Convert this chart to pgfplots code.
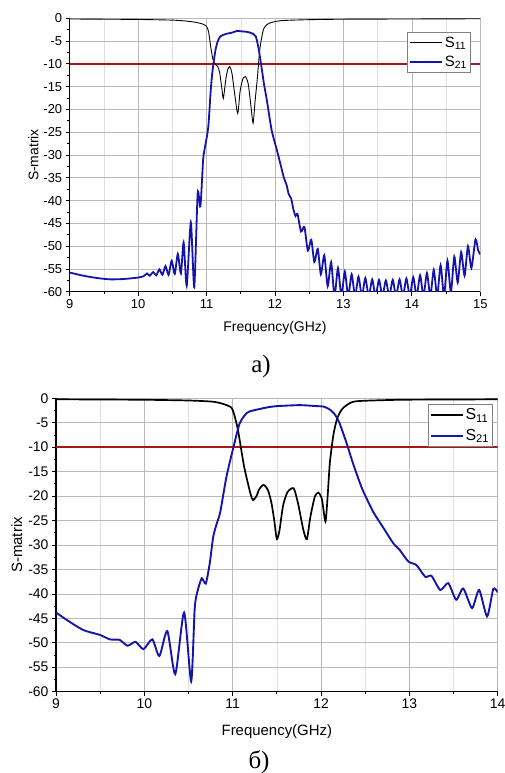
\documentclass[border=0pt]{standalone}
\usepackage{fontspec}
\setmainfont{Liberation Sans}
\newfontfamily\capfont{Liberation Serif}
\usepackage{pgfplots}
\pgfplotsset{compat=1.18}
\definecolor{sblue}{RGB}{20,20,170}
\definecolor{sred}{RGB}{170,20,20}
\definecolor{gridgray}{RGB}{185,185,185}
\definecolor{mingray}{RGB}{225,225,225}

\pgfplotsset{
  smat/.style={
    scale only axis,
    axis x line*=bottom, axis y line*=left,
    axis line style={black, line width=1.1pt, -},
    tick align=outside,
    tick style={black, line width=0.8pt},
    major tick length=4bp, minor tick length=2.5bp,
    minor x tick num=1, minor y tick num=1,
    xmajorgrids, ymajorgrids, xminorgrids,
    major grid style={gridgray, line width=0.6pt},
    minor grid style={mingray, line width=0.5pt},
    ymin=-60, ymax=0, ytick={-60,-55,...,0},
    /pgf/number format/assume math mode=true,
    xlabel={Frequency(GHz)},
    legend cell align=left,
    legend image code/.code={\draw[#1] (0bp,0bp) -- (32bp,0bp);},
  }
}

\begin{document}
\begin{tikzpicture}
% ---------------- top (a) ----------------
\begin{axis}[smat,
  at={(69.7bp,481.3bp)}, anchor=south west,
  width=410.6bp, height=273.4bp,
  xmin=9, xmax=15, xtick={9,10,...,15},
  tick label style={font=\fontsize{13}{13}\selectfont},
  label style={font=\fontsize{14}{14}\selectfont},
  xlabel style={at={(axis description cs:0.5,0)}, anchor=base, yshift=-40bp},
  legend style={at={(rel axis cs:0.977,0.950)}, anchor=north east, draw=gray, line width=0.6pt,
    font=\fontsize{15}{15}\selectfont, inner xsep=1.5bp, inner ysep=2.5bp, row sep=3bp, fill=white},
]
\addplot[sred, line width=1.5pt, forget plot] coordinates {(9,-10) (15,-10)};
\addplot[black, line width=0.9pt, smooth, tension=0.4] coordinates {
(9,-0.15) (9.5,-0.2) (10,-0.25) (10.5,-0.4) (10.7,-0.6) (10.85,-0.9) (10.95,-1.3) (11.0,-1.8)
(11.03,-3.0) (11.06,-6.2) (11.09,-8.8) (11.12,-10.0) (11.16,-10.5) (11.19,-11.8) (11.22,-15.0)
(11.245,-17.6) (11.28,-13.5) (11.31,-11.2) (11.34,-10.6) (11.37,-12.0) (11.41,-16.5) (11.455,-20.9)
(11.49,-16.0) (11.53,-13.3) (11.57,-12.8) (11.61,-14.5) (11.65,-19.5) (11.68,-23.0) (11.71,-18.0)
(11.74,-13.5) (11.78,-6.6) (11.83,-2.5) (11.88,-1.4) (11.95,-0.9) (12.1,-0.5) (12.5,-0.3)
(13,-0.2) (14,-0.15) (15,-0.1)};
\addlegendentry{S\textsubscript{11}}
\addplot[sblue, line width=1.8pt, smooth, tension=0.4] coordinates {
(9.0,-55.8) (9.2,-56.5) (9.4,-57.0) (9.6,-57.3) (9.8,-57.2) (10.0,-56.9) (10.08,-56.6)
(10.13,-56.0) (10.17,-56.5) (10.22,-55.7) (10.265,-56.4) (10.31,-55.1) (10.355,-56.3)
(10.40,-54.4) (10.445,-56.3) (10.49,-53.2) (10.535,-56.1) (10.58,-51.7) (10.625,-56.0)
(10.665,-49.2) (10.71,-58.7) (10.77,-44.8) (10.82,-59.0) (10.87,-38.4) (10.91,-41.3)
(10.95,-31.0) (10.98,-28.0) (11.01,-25.5) (11.03,-23.0) (11.06,-16.0) (11.08,-12.5)
(11.10,-10.0) (11.13,-7.0) (11.16,-5.2) (11.2,-4.0) (11.29,-3.4) (11.36,-3.2) (11.44,-2.8)
(11.5,-2.85) (11.6,-3.0) (11.68,-3.4) (11.72,-4.0) (11.76,-6.6) (11.80,-10.4) (11.84,-14.5)
(11.88,-17.9) (11.95,-24.5) (12.02,-28.5) (12.08,-32.0) (12.13,-35.0) (12.17,-36.6)
(12.20,-38.6) (12.235,-39.5) (12.27,-42.0) (12.30,-43.4) (12.33,-43.0) (12.38,-46.8)
(12.43,-45.8) (12.48,-51.0) (12.53,-48.6) (12.575,-53.5) (12.625,-50.6) (12.67,-56.2)
(12.72,-52.0) (12.77,-58.8) (12.82,-53.5) (12.87,-61) (12.92,-54.8) (12.97,-61)
(13.02,-55.6) (13.07,-61) (13.12,-56.2) (13.17,-61) (13.22,-56.7) (13.27,-61) (13.32,-57.0)
(13.37,-61) (13.42,-57.3) (13.47,-61) (13.52,-57.4) (13.57,-61) (13.62,-57.5) (13.67,-61)
(13.72,-57.4) (13.77,-61) (13.82,-57.3) (13.87,-61) (13.92,-57.1) (13.97,-61) (14.02,-56.8)
(14.07,-61) (14.12,-56.4) (14.17,-61) (14.22,-55.9) (14.27,-61) (14.32,-55.2) (14.37,-61)
(14.42,-54.2) (14.47,-61) (14.52,-53.2) (14.57,-60.2) (14.62,-52.3) (14.67,-58.0)
(14.72,-51.3) (14.77,-56.5) (14.82,-50.0) (14.87,-54.8) (14.93,-48.5) (14.97,-51.0)
(15.0,-51.8)};
\addlegendentry{S\textsubscript{21}}
\end{axis}

% ---------------- bottom (b) ----------------
\begin{axis}[smat,
  at={(56bp,81.3bp)}, anchor=south west,
  width=441.7bp, height=293.4bp,
  xmin=9, xmax=14, xtick={9,10,...,14},
  tick label style={font=\fontsize{14}{14}\selectfont},
  label style={font=\fontsize{15}{15}\selectfont},
  xlabel style={at={(axis description cs:0.5,0)}, anchor=base, yshift=-43.3bp},
  legend style={at={(rel axis cs:0.989,0.981)}, anchor=north east, draw=gray, line width=0.6pt,
    font=\fontsize{16}{16}\selectfont, inner xsep=1.5bp, inner ysep=2.5bp, row sep=4bp, fill=white},
]
\addplot[sred, line width=1.5pt, forget plot] coordinates {(9,-10) (14,-10)};
\addplot[black, line width=1.7pt, smooth, tension=0.4] coordinates {
(9,-0.2) (9.5,-0.25) (10,-0.3) (10.5,-0.45) (10.78,-0.7) (10.9,-1.2) (10.985,-1.9)
(11.02,-3.5) (11.06,-6.5) (11.13,-14.0) (11.2,-19.4) (11.23,-20.8) (11.27,-20.0) (11.30,-18.6)
(11.35,-17.7) (11.40,-18.8) (11.44,-21.5) (11.47,-24.9) (11.50,-28.8) (11.53,-27.0)
(11.57,-22.0) (11.62,-19.2) (11.69,-18.4) (11.74,-21.5) (11.80,-26.9) (11.84,-28.8)
(11.88,-24.2) (11.93,-20.1) (11.97,-19.3) (12.01,-20.6) (12.05,-25.2) (12.075,-20.0)
(12.10,-13.2) (12.14,-7.5) (12.18,-4.3) (12.23,-2.4) (12.29,-1.4) (12.4,-0.6) (12.9,-0.3)
(13.5,-0.25) (14,-0.2)};
\addlegendentry{S\textsubscript{11}}
\addplot[sblue, line width=1.9pt, smooth, tension=0.4] coordinates {
(9,-43.8) (9.12,-45.3) (9.31,-47.4) (9.5,-48.4) (9.61,-49.3) (9.72,-49.4) (9.81,-50.6)
(9.9,-49.8) (9.99,-51.3) (10.09,-49.3) (10.17,-52.7) (10.26,-47.6) (10.35,-56.4)
(10.45,-43.8) (10.53,-57.9) (10.57,-43.0) (10.60,-39.6) (10.65,-36.8) (10.695,-37.9)
(10.74,-33.8) (10.78,-28.3) (10.82,-25.6) (10.86,-23.2) (10.93,-16.0) (11.01,-9.9)
(11.08,-5.1) (11.16,-3.0) (11.23,-2.5) (11.38,-1.9) (11.5,-1.6) (11.76,-1.4) (11.95,-1.6)
(12.03,-1.7) (12.1,-2.3) (12.16,-3.4) (12.21,-5.1) (12.29,-9.2) (12.36,-13.2) (12.44,-17.3)
(12.48,-19.1) (12.59,-23.2) (12.71,-26.6) (12.82,-29.7) (12.89,-31.0) (12.99,-33.4)
(13.08,-34.1) (13.18,-36.5) (13.25,-36.3) (13.35,-39.2) (13.44,-37.8) (13.53,-41.2)
(13.61,-38.9) (13.71,-42.9) (13.79,-39.2) (13.88,-44.6) (13.95,-39.0) (14.0,-39.7)};
\addlegendentry{S\textsubscript{21}}
\end{axis}

\node[rotate=90, anchor=center, inner sep=0pt, font=\fontsize{14}{14}\selectfont] at (33.3bp,618bp) {S-matrix};
\node[rotate=90, anchor=center, inner sep=0pt, font=\fontsize{15}{15}\selectfont] at (16.7bp,228bp) {S-matrix};

\node[anchor=base] at (261bp,400bp) {\capfont\fontsize{25}{25}\selectfont а)};
\node[anchor=base] at (259bp,5bp) {\capfont\fontsize{25}{25}\selectfont б)};

\pgfresetboundingbox
\path (0,0) rectangle (505bp,773bp);
\end{tikzpicture}
\end{document}
